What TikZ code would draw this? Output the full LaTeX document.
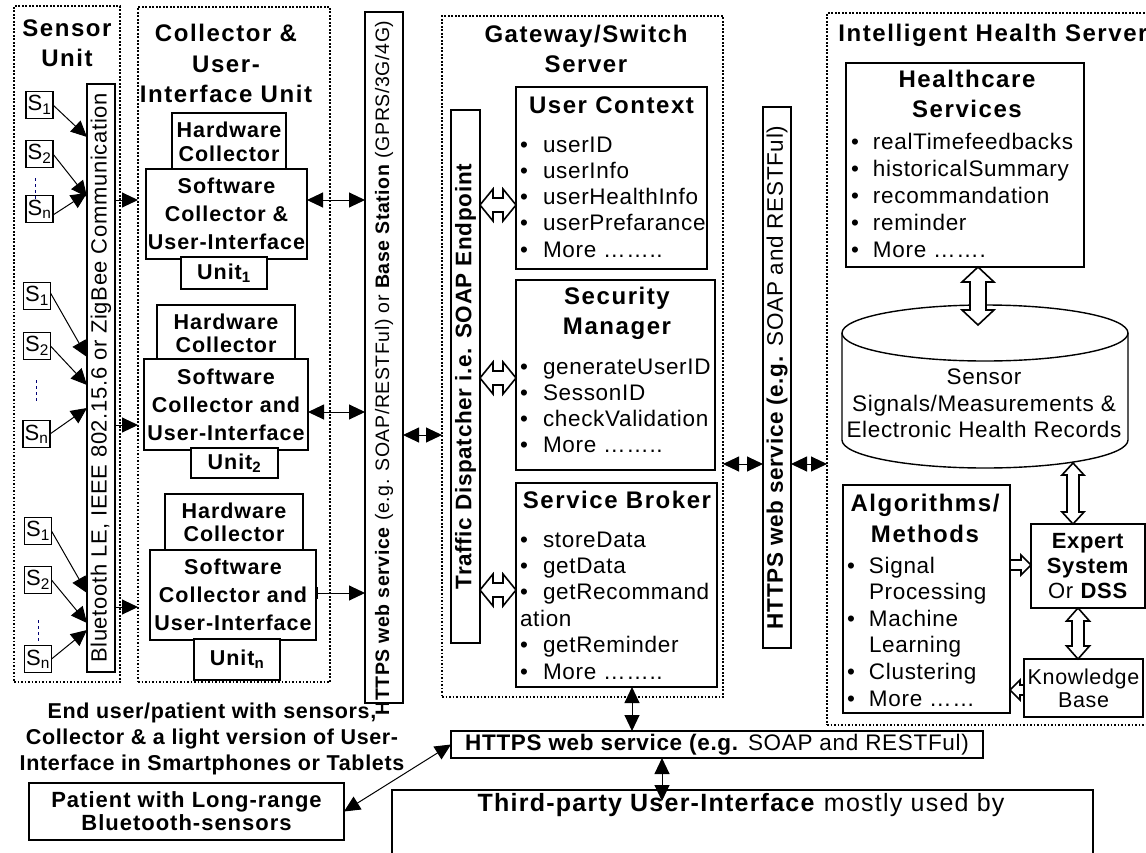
\documentclass[tikz,border=0pt]{standalone}
\usepackage{fontspec}
\setmainfont{Liberation Sans}[LetterSpace=3]
\usetikzlibrary{arrows.meta,calc}
\newcommand{\fsz}[2]{\fontsize{#1}{#2}\selectfont}
\newcommand{\ls}[1]{\addfontfeatures{LetterSpace=#1}}
\newcommand{\bul}{\makebox[23pt][l]{\textbullet}}
\newcommand{\bulb}{\makebox[22pt][l]{\textbullet}}
\begin{document}
\begin{tikzpicture}[x=1pt,y=-1pt,
  every node/.style={inner sep=0pt,outer sep=0pt},
  >={Triangle[length=16pt,width=15pt]},
  dotbox/.style={draw,line width=1.8pt,dash pattern=on 1.8pt off 1.7pt},
  tbox/.style={draw,line width=1.2pt,fill=white,align=center},
  kbox/.style={draw,line width=2.4pt,fill=white},
  sbox/.style={tbox,minimum width=27pt,minimum height=27pt,font=\fsz{22}{24}},
  hwbox/.style={tbox,font=\bfseries\fsz{21.5}{23.5}\ls{4.5}},
  swbox/.style={tbox,font=\bfseries\fsz{21.5}{28}\ls{4.5}},
  ttl/.style={align=center,font=\bfseries\fsz{24}{30}\ls{6.5}},
  lst/.style={align=left,anchor=north west,font=\fsz{22.5}{26.4}},
  con/.style={line width=1pt},
  hol/.style={draw,line width=1.6pt,fill=white},
  hdbl/.style n args={3}{hol,to path={
    let \p1=(\tikztostart), \p2=(\tikztotarget), \n1={sign(\x2-\x1)} in
    (\x1,\y1) -- (\x1+\n1*#1,\y1+#2) -- (\x1+\n1*#1,\y1+#3) -- (\x2-\n1*#1,\y1+#3)
    -- (\x2-\n1*#1,\y1+#2) -- (\x2,\y1) -- (\x2-\n1*#1,\y1-#2) -- (\x2-\n1*#1,\y1-#3)
    -- (\x1+\n1*#1,\y1-#3) -- (\x1+\n1*#1,\y1-#2) -- cycle}},
  vdbl/.style n args={3}{hol,to path={
    let \p1=(\tikztostart), \p2=(\tikztotarget), \n1={sign(\y2-\y1)} in
    (\x1,\y1) -- (\x1+#2,\y1+\n1*#1) -- (\x1+#3,\y1+\n1*#1) -- (\x1+#3,\y2-\n1*#1)
    -- (\x1+#2,\y2-\n1*#1) -- (\x1,\y2) -- (\x1-#2,\y2-\n1*#1) -- (\x1-#3,\y2-\n1*#1)
    -- (\x1-#3,\y1+\n1*#1) -- (\x1-#2,\y1+\n1*#1) -- cycle}},
  hsgl/.style n args={3}{hol,to path={
    let \p1=(\tikztostart), \p2=(\tikztotarget), \n1={sign(\x2-\x1)} in
    (\x1,\y1+#3) -- (\x2-\n1*#1,\y1+#3) -- (\x2-\n1*#1,\y1+#2) -- (\x2,\y1)
    -- (\x2-\n1*#1,\y1-#2) -- (\x2-\n1*#1,\y1-#3) -- (\x1,\y1-#3) -- cycle}},
  senslash/.style={line width=1pt,dash pattern=on 3pt off 3pt,blue!45!black}
]
\path[use as bounding box,clip] (0,0) rectangle (1146,852);
\fill[white] (0,0) rectangle (1146,852);

% ---------- containers ----------
\node[dotbox,minimum width=106pt,minimum height=676pt] (su) at (67,344) {};
\node[dotbox,minimum width=192pt,minimum height=675pt] (cu) at (234,344.5) {};
\node[dotbox,minimum width=281pt,minimum height=681pt] (gw) at (582.5,356.5) {};
\node[dotbox,minimum width=340pt,minimum height=712pt] (ih) at (997,369) {};

% ---------- titles ----------
\node[ttl] (sut) at (67,43.5) {Sensor\\Unit};
\node[ttl,font=\bfseries\fsz{24}{30.5}\ls{6.5}] (cut) at (226,63.5) {Collector \&\\User-\\Interface Unit};
\node[ttl] (gwt) at (586,49) {Gateway/Switch\\Server};
\node[ttl,anchor=base] (iht) at (993,41) {Intelligent Health Server};

% ---------- sensors ----------
\node[sbox] (s11) at (39.5,105) {S\textsubscript{1}};
\node[sbox] (s12) at (39.5,154) {S\textsubscript{2}};
\node[sbox] (s1n) at (39.5,209) {S\textsubscript{n}};
\node[sbox] (s21) at (37,296) {S\textsubscript{1}};
\node[sbox] (s22) at (37,346) {S\textsubscript{2}};
\node[sbox] (s2n) at (36.5,434) {S\textsubscript{n}};
\node[sbox] (s31) at (38,531) {S\textsubscript{1}};
\node[sbox] (s32) at (38,580) {S\textsubscript{2}};
\node[sbox] (s3n) at (38,659) {S\textsubscript{n}};
\draw[senslash] (35,178) -- (35,200);
\draw[senslash] (36,380) -- (36,403);
\draw[senslash] (38,620) -- (38,642);

\node[tbox,rotate=90,minimum width=588pt,minimum height=28pt,font=\fsz{22}{22}] (bt) at (101,378)
  {Bluetooth LE, IEEE 802.15.6 or ZigBee Communication};

% ---------- collector units ----------
\node[hwbox,minimum width=114pt,minimum height=58pt] (hw1) at (229,142) {Hardware\\Collector};
\node[swbox,minimum width=161pt,minimum height=90pt] (sw1) at (226.5,214) {Software\\Collector \&\\User-Interface};
\node[hwbox,minimum width=86pt,minimum height=32pt] (un1) at (224,273) {Unit\textsubscript{1}};

\node[hwbox,minimum width=138pt,minimum height=57pt] (hw2) at (226,333.5) {Hardware\\Collector};
\node[swbox,minimum width=164pt,minimum height=91pt] (sw2) at (226,404.5) {Software\\Collector and\\User-Interface};
\node[hwbox,minimum width=87pt,minimum height=30pt] (un2) at (234.5,463) {Unit\textsubscript{2}};

\node[hwbox,minimum width=138pt,minimum height=57pt] (hw3) at (234,522.5) {Hardware\\Collector};
\node[swbox,minimum width=166pt,minimum height=90pt] (sw3) at (233,595) {Software\\Collector and\\User-Interface};
\node[hwbox,minimum width=86pt,minimum height=41pt] (un3) at (237,659.5) {Unit\textsubscript{n}};

% ---------- left HTTPS ----------
\node[tbox,rotate=90,minimum width=691pt,minimum height=38pt] (hl) at (384,357.5) {};
\node[rotate=90,font=\fsz{19.5}{19.5}] (hlt) at (384,368)
  {\textbf{HTTPS web service} (e.g. SOAP/RESTFul) or \textbf{Base Station} (GPRS/3G/4G)};

% ---------- gateway ----------
\node[tbox,line width=1.8pt,rotate=90,minimum width=533pt,minimum height=29pt,font=\bfseries\fsz{22.5}{22.5}] (td) at (465.5,376.5)
  {Traffic Dispatcher i.e. SOAP Endpoint};

\node[kbox,minimum width=191pt,minimum height=182pt] (uc) at (611.5,178) {};
\node[ttl,anchor=base] (uct) at (611.5,113) {User Context};
\node[lst,font=\fsz{22.5}{26.3}] (ucl) at (520,135) {\rule{0pt}{17pt}\bul userID\\\bul userInfo\\\bul userHealthInfo\\\bul userPrefarance\\\bul More ……..};

\node[kbox,minimum width=199pt,minimum height=190pt] (sm) at (615.5,375) {};
\node[ttl] (smt) at (617,313.75) {Security\\Manager};
\node[lst,font=\fsz{22.5}{26.3}] (sml) at (520,357) {\rule{0pt}{17pt}\bul generateUserID\\\bul SessonID\\\bul checkValidation\\\bul More ……..};

\node[kbox,minimum width=201pt,minimum height=204pt] (sb) at (616.5,585) {};
\node[ttl,anchor=base] (sbt) at (617,508) {Service Broker};
\node[lst] (sbl) at (520,530) {\rule{0pt}{17pt}\bul storeData\\\bul getData\\\bul getRecommand\\ation\\\bul getReminder\\\bul More ……..};

\path[hdbl={13pt}{16pt}{7pt}] (td.south |- 0,205) to (uc.west |- 0,205);
\path[hdbl={13pt}{16pt}{7pt}] (td.south |- 0,378) to (sm.west |- 0,378);
\path[hdbl={13pt}{16pt}{7pt}] (td.south |- 0,590) to (sb.west |- 0,590);

% ---------- right HTTPS ----------
\node[tbox,rotate=90,minimum width=541pt,minimum height=28pt,font=\fsz{22.5}{22.5}] (hr) at (777,377.5)
  {\textbf{HTTPS web service (e.g.} SOAP and RESTFul)};

% ---------- intelligent health server ----------
\node[kbox,minimum width=238pt,minimum height=204pt] (hs) at (965,165) {};
\node[ttl] (hst) at (967,94.25) {Healthcare\\Services};
\node[lst,font=\fsz{22.5}{27.2}] (hsl) at (851,132) {\rule{0pt}{17pt}\bulb realTimefeedbacks\\\bulb historicalSummary\\\bulb recommandation\\\bulb reminder\\\bulb More …….};

\node[minimum width=286pt,minimum height=163pt] (db) at (985,386.5) {};
\draw[line width=1.4pt,fill=white] (842,333) -- (842,440)
  arc[start angle=180,end angle=360,x radius=143pt,y radius=28pt] -- (1128,333);
\draw[line width=1.4pt,fill=white] (985,333) ellipse[x radius=143pt,y radius=28pt];
\node[align=center,font=\fsz{22.5}{26.5}] (dbt) at (984,403.5) {Sensor\\Signals/Measurements \&\\Electronic Health Records};

\node[kbox,minimum width=167pt,minimum height=228pt] (al) at (926.5,599) {};
\node[ttl,font=\bfseries\fsz{24}{31}\ls{6.5}] (alt) at (925,518.75) {Algorithms/\\Methods};
\node[lst,font=\fsz{22.5}{26.6}] (all) at (847,556) {\rule{0pt}{17pt}\bulb Signal\\\hspace*{22pt}Processing\\\bulb Machine\\\hspace*{22pt}Learning\\\bulb Clustering\\\bulb More ……};

\node[kbox,minimum width=114pt,minimum height=84pt,align=center,font=\fsz{22}{25}] (ex) at (1088,566)
  {\textbf{Expert}\\\textbf{System}\\Or \textbf{DSS}};
\node[kbox,minimum width=119pt,minimum height=58pt,align=center,font=\fsz{21.5}{23}] (kb) at (1083.5,688) {Knowledge\\Base};

\coordinate (dbin) at (978,325);
\coordinate (dbout) at (1073,463);
\path[vdbl={15pt}{16pt}{8pt}] (hs.south -| dbin) to (dbin);
\path[vdbl={12pt}{11pt}{6pt}] (dbout) to (ex.north -| dbout);
\path[vdbl={13pt}{11.5pt}{6pt}] (ex.south -| 1078,0) to (kb.north -| 1078,0);
\path[hsgl={10pt}{10pt}{5pt}] (al.east |- 0,565) to (ex.west |- 0,565);
\path[hsgl={10pt}{10pt}{5pt}] (kb.west |- 0,690) to (al.east |- 0,690);

% ---------- bottom ----------
\node[tbox,minimum width=532pt,minimum height=27pt,font=\fsz{22.5}{22.5}] (bh) at (717,744.5)
  {\textbf{HTTPS web service (e.g.} SOAP and RESTFul)};
\node[draw,line width=1.2pt,minimum width=701pt,minimum height=90pt] (tp) at (742.5,835) {};
\node[font=\fsz{25}{25}\ls{5}] (tpt) at (741,805) {\textbf{Third-party User-Interface} mostly used by};
\node[align=center,font=\bfseries\fsz{21.5}{26}] (eu) at (212,739)
  {End user/patient with sensors,\\Collector \& a light version of User-\\Interface in Smartphones or Tablets};
\node[kbox,minimum width=315pt,minimum height=57pt,align=center,font=\bfseries\fsz{22}{23}\ls{4.5}] (pt) at (186.5,811.5)
  {Patient with Long-range\\Bluetooth-sensors};
\coordinate (tpin) at (662,801);

% ---------- connectors ----------
\draw[con,->] (s11.east) -- (bt.north |- 0,137);
\draw[con,->] (s12.east) -- (bt.north |- 0,197);
\draw[con,->] ([yshift=-6pt]s1n.east) -- (bt.north |- 0,193);
\draw[con,->] ([yshift=3pt]s21.east) -- (bt.north |- 0,357);
\draw[con,->] (s22.east) -- (bt.north |- 0,385);
\draw[con,->] (s2n.east) -- (bt.north |- 0,408);
\draw[con,->] (s31.east) -- (bt.north |- 0,593);
\draw[con,->] (s32.east) -- (bt.north |- 0,623);
\draw[con,->] (s3n.east) -- (bt.north |- 0,630);

\draw[con,->] (bt.south |- 0,200) -- (cu.west |- 0,200);
\draw[con,->] (bt.south |- 0,425) -- (cu.west |- 0,425);
\draw[con,->] (bt.south |- 0,607) -- (cu.west |- 0,607);

\draw[con,<->] (sw1.east |- 0,200) -- (hl.north |- 0,200);
\draw[con,<->] (sw2.east |- 0,412) -- (hl.north |- 0,412);
\draw[con,{Bar[width=12pt,line width=2pt]}->] (sw3.east |- 0,593) -- (hl.north |- 0,593);

\draw[con,<->] (hl.south |- 0,435) -- (gw.west |- 0,435);
\draw[con,<->] (gw.east |- 0,464) -- (hr.north |- 0,464);
\draw[con,<->] (hr.south |- 0,464) -- (ih.west |- 0,464);

\draw[con,<->] (sb.south -| 632,0) -- (bh.north -| 632,0);
\draw[con,<->] (bh.south -| tpin) -- (tpin);
\draw[con,<->] (pt.east) -- (bh.west);
\end{tikzpicture}
\end{document}
